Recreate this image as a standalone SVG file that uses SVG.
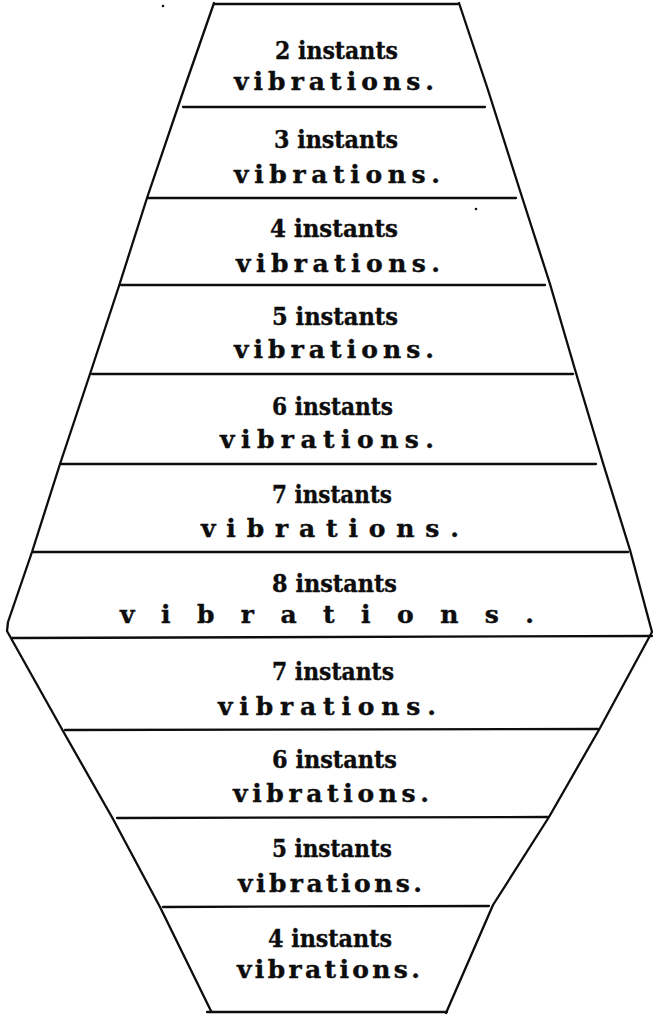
<svg xmlns="http://www.w3.org/2000/svg" width="653" height="1015" viewBox="0 0 653 1015">
<style>
.ln{fill:none;stroke:#0d0d0d;stroke-width:2.3;stroke-linecap:round;stroke-linejoin:round}
.n{font-family:"DejaVu Serif","Liberation Serif",serif;font-weight:bold;font-size:25px;fill:#0d0d0d;stroke:#0d0d0d;stroke-width:0.4}
.v{font-family:"DejaVu Serif","Liberation Serif",serif;font-weight:bold;font-size:25px;fill:#0d0d0d;stroke:#0d0d0d;stroke-width:0.4}
</style>
<rect width="653" height="1015" fill="#fff"/>
<g id="connectors">
<polyline class="ln" points="214,3 183,92 147,198 119,286 90,374 60,464 32,552 8,622 7,631 12,640 63,731 113,819 160,907 211,1011"/>
<polyline class="ln" points="459,3 488,90 522,197 550,284 576,373 603,463 630,550 652,632 600,728 549,817 493,905 446,1013"/>
<line class="ln" x1="214" y1="4" x2="458" y2="4"/>
<line class="ln" x1="183" y1="107" x2="485" y2="107"/>
<line class="ln" x1="148" y1="198" x2="516" y2="198"/>
<line class="ln" x1="121" y1="285" x2="545" y2="285"/>
<line class="ln" x1="92" y1="374" x2="573" y2="374"/>
<line class="ln" x1="61" y1="464" x2="596" y2="464"/>
<line class="ln" x1="33" y1="552" x2="628" y2="552"/>
<line class="ln" x1="12" y1="638" x2="652" y2="636"/>
<line class="ln" x1="65" y1="730" x2="598" y2="729"/>
<line class="ln" x1="117" y1="818" x2="548" y2="817"/>
<line class="ln" x1="163" y1="907" x2="489" y2="906"/>
<line class="ln" x1="207" y1="1012" x2="447" y2="1012"/>
<circle cx="163" cy="6" r="1.3" fill="#111"/>
<circle cx="476" cy="209" r="1.3" fill="#111"/>
</g>
<g id="row-1"><text class="n" x="275" y="59" textLength="123" lengthAdjust="spacingAndGlyphs">2 instants</text><text class="v" x="234" y="90" textLength="200" lengthAdjust="spacing">vibrations.</text></g>
<g id="row-2"><text class="n" x="274" y="148" textLength="124" lengthAdjust="spacingAndGlyphs">3 instants</text><text class="v" x="234" y="183" textLength="206" lengthAdjust="spacing">vibrations.</text></g>
<g id="row-3"><text class="n" x="270" y="237" textLength="128" lengthAdjust="spacingAndGlyphs">4 instants</text><text class="v" x="236" y="272" textLength="204" lengthAdjust="spacing">vibrations.</text></g>
<g id="row-4"><text class="n" x="272" y="325" textLength="126" lengthAdjust="spacingAndGlyphs">5 instants</text><text class="v" x="234" y="358" textLength="200" lengthAdjust="spacing">vibrations.</text></g>
<g id="row-5"><text class="n" x="272" y="415" textLength="121" lengthAdjust="spacingAndGlyphs">6 instants</text><text class="v" x="220" y="448" textLength="214" lengthAdjust="spacing">vibrations.</text></g>
<g id="row-6"><text class="n" x="272" y="503" textLength="120" lengthAdjust="spacingAndGlyphs">7 instants</text><text class="v" x="201" y="537" textLength="258" lengthAdjust="spacing">vibrations.</text></g>
<g id="row-7"><text class="n" x="272" y="592" textLength="125" lengthAdjust="spacingAndGlyphs">8 instants</text><text class="v" x="120" y="623" textLength="414" lengthAdjust="spacing">vibrations.</text></g>
<g id="row-8"><text class="n" x="272" y="680" textLength="122" lengthAdjust="spacingAndGlyphs">7 instants</text><text class="v" x="218" y="715" textLength="218" lengthAdjust="spacing">vibrations.</text></g>
<g id="row-9"><text class="n" x="272" y="768" textLength="125" lengthAdjust="spacingAndGlyphs">6 instants</text><text class="v" x="233" y="802" textLength="196" lengthAdjust="spacing">vibrations.</text></g>
<g id="row-10"><text class="n" x="272" y="857" textLength="120" lengthAdjust="spacingAndGlyphs">5 instants</text><text class="v" x="238" y="892" textLength="184" lengthAdjust="spacing">vibrations.</text></g>
<g id="row-11"><text class="n" x="268" y="947" textLength="124" lengthAdjust="spacingAndGlyphs">4 instants</text><text class="v" x="237" y="978" textLength="183" lengthAdjust="spacing">vibrations.</text></g>
</svg>
